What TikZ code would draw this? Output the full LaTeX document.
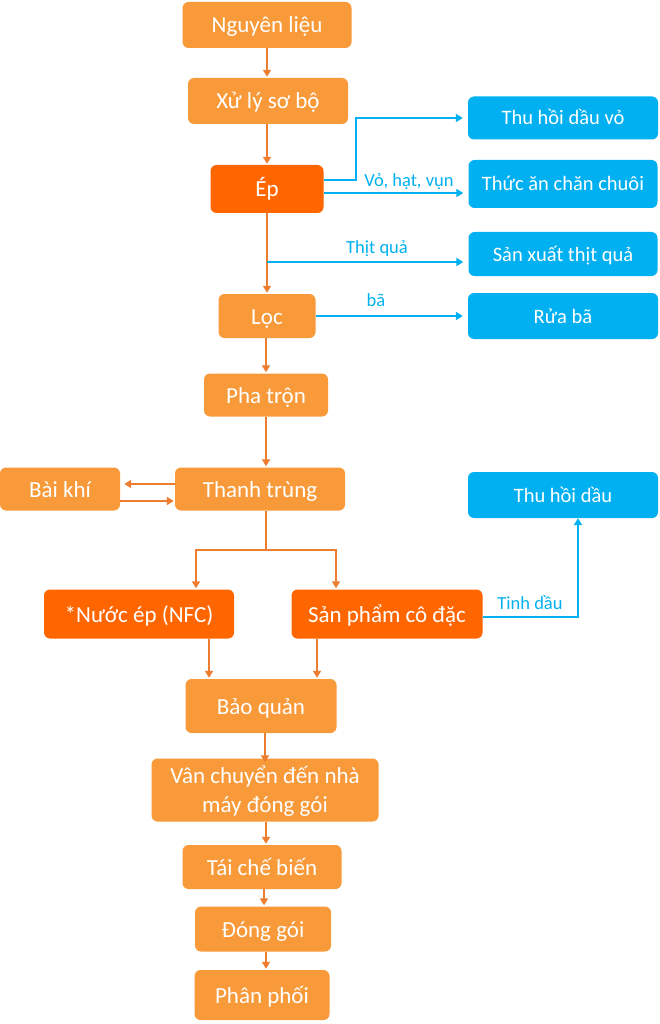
\documentclass[tikz,border=0pt]{standalone}
\usepackage{fontspec}
\setmainfont{Carlito}
\usetikzlibrary{arrows.meta}
\definecolor{lor}{HTML}{F89A3A}
\definecolor{dor}{HTML}{FF6600}
\definecolor{blu}{HTML}{00B0F0}
\definecolor{lin}{HTML}{ED7D31}
\tikzset{
  box/.style={rounded corners=6pt, inner sep=0pt, text=white, font=\fontsize{23}{29}\selectfont, align=center, text height=18pt, text depth=2pt},
  lbox/.style={box, fill=lor},
  dbox/.style={box, fill=dor},
  bbox/.style={box, fill=blu, font=\fontsize{20.5}{24}\selectfont, text height=16pt, text depth=2pt},
  oarr/.style={draw=lin, line width=1.8pt, -{Triangle[length=7pt,width=8pt]}, shorten >=1pt},
  oline/.style={draw=lin, line width=1.8pt},
  barr/.style={draw=blu, line width=1.8pt, -{Triangle[length=7pt,width=8pt]}, shorten >=5pt},
  blab/.style={text=blu, font=\fontsize{18.5}{21}\selectfont, inner sep=0pt}
}
\begin{document}
\begin{tikzpicture}[x=1pt,y=-1pt]
\useasboundingbox (0,0) rectangle (660,1024);
% main column
\node[lbox, minimum width=169pt, minimum height=46pt] (ng) at (267,25) {Nguyên liệu};
\node[lbox, minimum width=160pt, minimum height=46pt] (xl) at (268,101) {Xử lý sơ bộ};
\node[dbox, minimum width=113pt, minimum height=48pt] (ep) at (267,189) {Ép};
\node[lbox, minimum width=97pt, minimum height=44pt] (loc) at (267,316) {Lọc};
\node[lbox, minimum width=124pt, minimum height=43pt] (pt) at (266,395) {Pha trộn};
\node[lbox, minimum width=120pt, minimum height=43pt] (bk) at (60,489) {Bài khí};
\node[lbox, minimum width=170pt, minimum height=43pt] (tt) at (260,489) {Thanh trùng};
\node[dbox, minimum width=190pt, minimum height=49pt] (nfc) at (139,614) {*Nước ép (NFC)};
\node[dbox, minimum width=191pt, minimum height=49pt] (sp) at (387,614) {Sản phẩm cô đặc};
\node[lbox, minimum width=151pt, minimum height=54pt] (bq) at (261,706) {Bảo quản};
\node[lbox, minimum width=227pt, minimum height=63pt, text height=48pt, text depth=4pt] (vc) at (265,790) {Vân chuyển đến nhà\\máy đóng gói};
\node[lbox, minimum width=159pt, minimum height=44pt] (tcb) at (262,867) {Tái chế biến};
\node[lbox, minimum width=136pt, minimum height=45pt] (dg) at (263,929) {Đóng gói};
\node[lbox, minimum width=135pt, minimum height=50pt] (pp) at (262,995) {Phân phối};
% blue boxes
\node[bbox, minimum width=190pt, minimum height=43pt] (thv) at (563,118) {Thu hồi dầu vỏ};
\node[bbox, minimum width=189pt, minimum height=48pt] (tac) at (563,184) {Thức ăn chăn chuôi};
\node[bbox, minimum width=189pt, minimum height=44pt] (sx) at (563,254) {Sản xuất thịt quả};
\node[bbox, minimum width=190pt, minimum height=46pt] (rb) at (563,316) {Rửa bã};
\node[bbox, minimum width=190pt, minimum height=46pt] (thd) at (563,495) {Thu hồi dầu};
% coordinates
\coordinate (tq) at (267,262);
\coordinate (split) at (266,550);
% orange connectors
\draw[oarr] (ng) -- (ng.south |- xl.north);
\draw[oarr] (xl.south -| ep) -- (ep.north);
\draw[oarr] (ep) -- (loc);
\draw[oarr] (loc.south -| pt) -- (pt.north);
\draw[oarr] (pt.south) -- (pt.south |- tt.north);
\draw[oarr] (tt.west |- 0,484) -- ([xshift=3pt]bk.east |- 0,484);
\draw[oarr] (bk.east |- 0,501) -- (tt.west |- 0,501);
\draw[oline] (tt.south -| split) -- (split);
\draw[oarr] (split) -| (nfc.north -| 196,0);
\draw[oarr] (split) -| (sp.north -| 336,0);
\draw[oarr] (nfc.south -| 209,0) -- (bq.north -| 209,0);
\draw[oarr] (sp.south -| 317,0) -- (bq.north -| 317,0);
\draw[oarr] (bq.south -| 265,0) -- ([yshift=-5pt]vc.north -| 265,0);
\draw[oarr] (vc.south -| 266,0) -- (tcb.north -| 266,0);
\draw[oarr] (tcb.south -| 264,0) -- (dg.north -| 264,0);
\draw[oarr] (dg.south -| 266,0) -- (pp.north -| 266,0);
% blue connectors
\draw[barr] (ep.east |- 0,180) -- (356,180) |- (thv.west);
\draw[barr] (ep.east |- 0,193) -- (tac.west |- 0,193);
\draw[barr] (tq) -- (tq -| sx.west);
\draw[barr] (loc.east) -- (rb.west);
\draw[barr, shorten >=0pt] (sp.east |- 0,617) -| (thd.south -| 578,0);
% labels
\node[blab] (l1) at (409,182) {Vỏ, hạt, vụn};
\node[blab] (l2) at (377,249) {Thịt quả};
\node[blab] (l3) at (376,300) {bã};
\node[blab] (l4) at (530,603) {Tinh dầu};
\end{tikzpicture}
\end{document}
